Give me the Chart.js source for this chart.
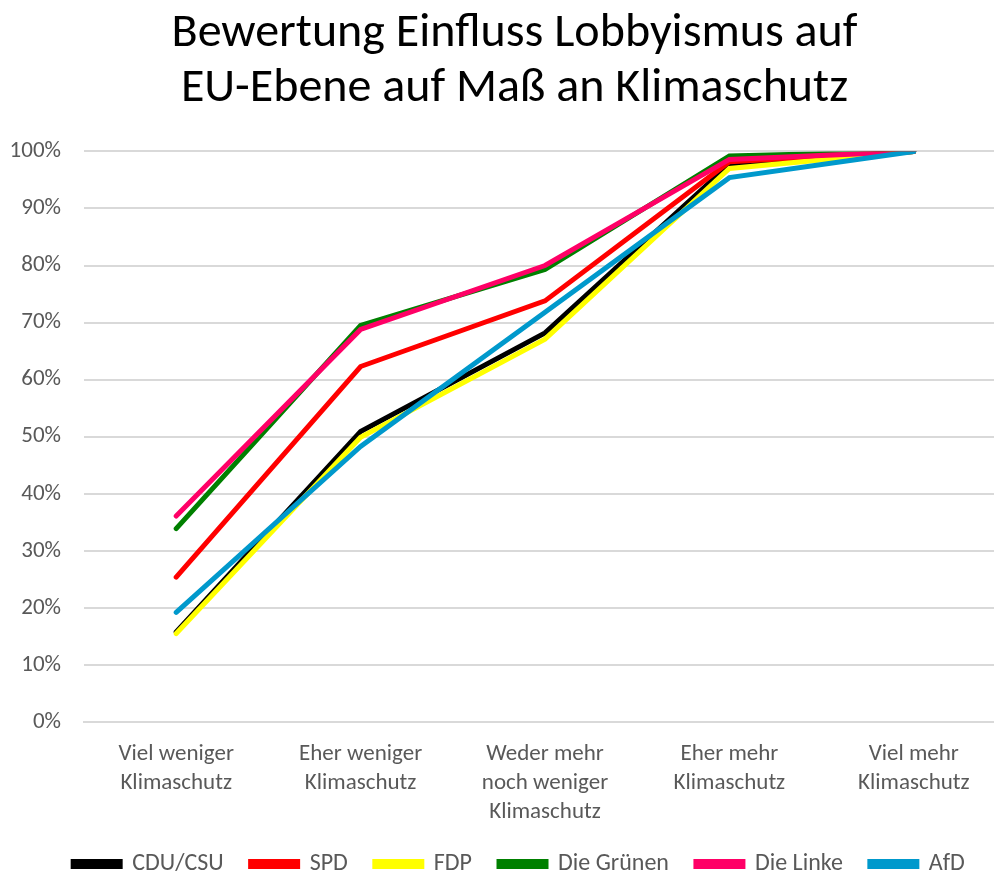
<!DOCTYPE html>
<html>
<head>
<meta charset="utf-8">
<script src="https://cdn.jsdelivr.net/npm/chart.js@4"></script>
<style>
  html, body { margin: 0; padding: 0; background: #fff; overflow: hidden; }
  #wrap { width: 1029px; height: 876px; }
</style>
</head>
<body>
<div id="wrap"><canvas id="klimaChart" width="1029" height="876"></canvas></div>
<script>
var categories = [
    ['Viel weniger', 'Klimaschutz'],
    ['Eher weniger', 'Klimaschutz'],
    ['Weder mehr', 'noch weniger', 'Klimaschutz'],
    ['Eher mehr', 'Klimaschutz'],
    ['Viel mehr', 'Klimaschutz']
];
var parties = ['CDU/CSU', 'SPD', 'FDP', 'Die Grünen', 'Die Linke', 'AfD'];
var cduValues = [15.8, 50.9, 68.2, 97.7, 100];
var spdValues = [25.4, 62.3, 73.8, 98.2, 100];
var fdpValues = [15.5, 49.9, 67.1, 97.0, 100];
var gruenValues = [33.9, 69.5, 79.3, 99.2, 100];
var linkeValues = [36.1, 68.8, 80.0, 98.6, 100];
var afdValues = [19.2, 48.3, 71.8, 95.4, 100];
var partyColors = ['#000000', '#ff0000', '#ffff00', '#008000', '#ff0066', '#0099cc'];

var seriesValues = [cduValues, spdValues, fdpValues, gruenValues, linkeValues, afdValues];
var fontFamily = "Carlito, Calibri, 'Open Sans', sans-serif";

// title and legend in the original sit a little right of the plot's centre
var shiftBlocks = {
    id: 'shiftBlocks',
    afterLayout: function (chart) {
        if (chart.titleBlock) {
            chart.titleBlock.left += 13;
        }
        if (chart.legend) {
            chart.legend.left += 11;
            chart.legend.right += 11;
        }
    }
};

window.onload = function () {
    var ctx = document.getElementById('klimaChart').getContext('2d');
    var chart = new Chart(ctx, {
        type: 'line',
        data: {
            labels: categories,
            datasets: parties.map(function (party, i) {
                return {
                    label: party,
                    data: seriesValues[i],
                    borderColor: partyColors[i],
                    backgroundColor: partyColors[i],
                    borderWidth: 5,
                    pointRadius: 0,
                    tension: 0,
                    borderCapStyle: 'round',
                    order: parties.length - i
                };
            })
        },
        options: {
            responsive: false,
            animation: false,
            layout: { padding: { left: 10, right: 23, top: 4, bottom: 0 } },
            plugins: {
                title: {
                    display: true,
                    text: ['Bewertung Einfluss Lobbyismus auf', 'EU-Ebene auf Maß an Klimaschutz'],
                    color: '#000000',
                    font: { family: fontFamily, size: 48, weight: 'normal', lineHeight: 1.15 },
                    padding: { top: 2, bottom: 35 }
                },
                legend: {
                    position: 'bottom',
                    maxHeight: 51,
                    labels: {
                        color: '#595959',
                        font: { family: fontFamily, size: 24 },
                        boxWidth: 47,
                        boxHeight: 5,
                        padding: 27,
                        sort: function (a, b) { return a.datasetIndex - b.datasetIndex; }
                    }
                },
                tooltip: { enabled: false }
            },
            scales: {
                y: {
                    min: 0,
                    max: 100,
                    afterFit: function (scale) { scale.width = 74; },
                    ticks: {
                        stepSize: 10,
                        color: '#595959',
                        font: { family: fontFamily, size: 23 },
                        padding: 23,
                        callback: function (v) { return v + '%'; }
                    },
                    grid: { color: '#d9d9d9', lineWidth: 2, drawTicks: false },
                    border: { display: false }
                },
                x: {
                    offset: true,
                    afterFit: function (scale) { scale.height = 103; },
                    ticks: {
                        color: '#595959',
                        font: { family: fontFamily, size: 23, lineHeight: 1.26 },
                        padding: 18,
                        maxRotation: 0
                    },
                    grid: { display: false, drawTicks: false },
                    border: { color: '#d9d9d9', width: 2 }
                }
            }
        },
        plugins: [shiftBlocks]
    });
};
</script>
</body>
</html>
